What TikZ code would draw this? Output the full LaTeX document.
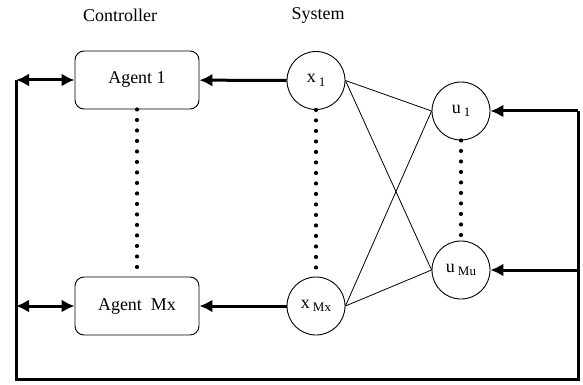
\documentclass[tikz,border=0pt]{standalone}
\usepackage{fontspec}
\setmainfont{Liberation Serif}
\usepackage{tikz}
\usetikzlibrary{arrows.meta,positioning}

\newcommand{\lowsub}[1]{\,\raisebox{-0.45ex}{\fontsize{13}{14}\selectfont #1}}
\tikzset{
	agentbox/.style={draw, line width=0.9pt, rounded corners=9pt, minimum width=124pt, minimum height=58pt, font=\fontsize{18}{20}\selectfont},
	statenode/.style={draw, line width=0.9pt, circle, minimum size=58pt, inner sep=0pt, font=\fontsize{18}{20}\selectfont},
	linkline/.style={line width=0.8pt},
	dotline/.style={line width=4.2pt, line cap=round, dash pattern=on 0pt off 10.5pt},
	fatline/.style={line width=3pt},
}

\begin{document}
\begin{tikzpicture}[x=1pt, y=-1pt, >={Latex[length=13pt,width=13pt]}]
				\useasboundingbox (0,0) rectangle (583,385);
				\node[font=\fontsize{18}{20}\selectfont] (ctrl) at (120,15) {Controller};
				\node[font=\fontsize{18}{20}\selectfont] (sys) at (318,15) {System};
				% controller
				\node[agentbox] (agent1) at (137,80) {Agent 1};
				\node[agentbox] (agentM) at (137,306) {Agent\ \ Mx};
				% system
				\node[statenode] (x1) at (316,80.5) {x\lowsub{1}};
				\node[statenode] (xM) at (316,306) {x\lowsub{Mx}};
				\node[statenode] (u1) at (461,111) {u\lowsub{1}};
				\node[statenode] (uM) at (461,270) {u\lowsub{Mu}};
				\coordinate (tl) at (16,80);
				\coordinate (ml) at (16,306);
				\coordinate (bl) at (16,379);
				\coordinate (br) at (578,379);
				\coordinate (tr) at (578,111);
				\coordinate (mr) at (578,270);
				% couplings
				\draw[linkline] (x1.east) -- (u1.west);
				\draw[linkline] (x1.east) -- (uM.west);
				\draw[linkline] (xM.east) -- (u1.west);
				\draw[linkline] (xM.east) -- (uM.west);
				\draw[dotline] (agent1.south) -- (agentM.north);
				\draw[dotline] (x1.south) -- (xM.north);
				\draw[dotline] (u1.south) -- (uM.north);
				% feedback
				\draw[fatline] (tl) -- (bl) -- (br) -- (tr);
				\draw[fatline, <->] (tl) -- (agent1);
				\draw[fatline, <->] (ml) -- (agentM);
				\draw[fatline, ->] (x1) -- (agent1);
				\draw[fatline, ->] (xM) -- (agentM);
				\draw[fatline, ->] (tr) -- (u1);
				\draw[fatline, ->] (mr) -- (uM);
			\end{tikzpicture}
\end{document}
